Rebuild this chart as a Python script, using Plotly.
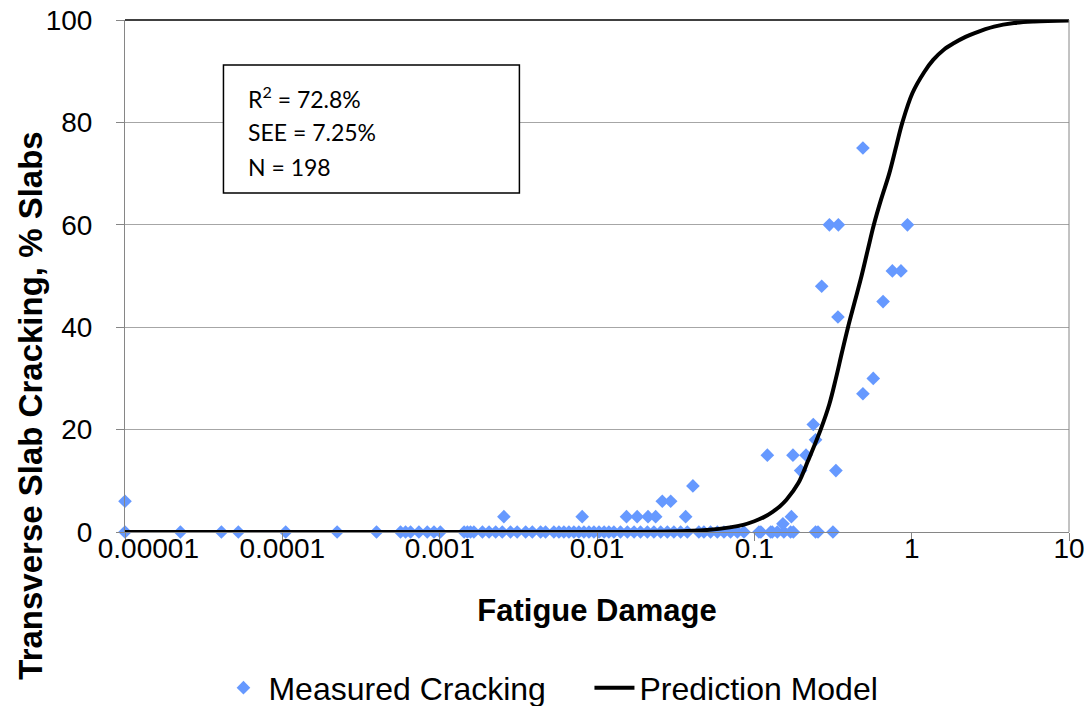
import plotly.graph_objects as go

# measured cracking (fatigue damage vs % slabs cracked)
measured_fd = [
    1e-5, 2.25e-5, 4.1e-5, 5.25e-5, 1.05e-4, 2.23e-4, 3.97e-4, 5.64e-4, 6.07e-4,
    6.53e-4, 7.38e-4, 8.34e-4, 9.2e-4, 1.01e-3, 1.43e-3, 1.5e-3, 1.57e-3, 1.65e-3,
    1.87e-3, 2.06e-3, 2.27e-3, 2.5e-3, 2.82e-3, 3.11e-3, 3.52e-3, 3.88e-3, 4.38e-3,
    4.71e-3, 5.32e-3, 5.73e-3, 6.16e-3, 6.63e-3, 7.13e-3, 7.67e-3, 8.26e-3, 8.89e-3,
    9.56e-3, 0.0103, 0.0111, 0.0119, 0.0128, 0.0141, 0.0156, 0.0172, 0.0189, 0.0209,
    0.023, 0.0254, 0.028, 0.0308, 0.034, 0.0375, 0.0444, 0.0478, 0.0527, 0.0582,
    0.0641, 0.0706, 0.078, 0.0859, 0.107, 0.11, 0.127, 0.13, 0.14, 0.154, 0.17,
    0.177, 0.245, 0.254, 0.316,
    1e-5, 0.00256, 0.00805, 0.0154, 0.018, 0.0211, 0.0236, 0.026, 0.0294, 0.0366,
    0.0407, 0.121, 0.152, 0.172, 0.176, 0.197, 0.213, 0.237, 0.245, 0.268, 0.30,
    0.33, 0.34, 0.342, 0.49, 0.49, 0.57, 0.658, 0.754, 0.855, 0.94,
]
measured_crk = [0] * 71 + [
    6, 3, 3, 3, 3, 3, 3, 6, 6, 3,
    9, 15, 1.6, 3, 15, 12, 15, 21, 18, 48, 60,
    12, 42, 60, 75, 27, 30, 45, 51, 51, 60,
]

# prediction model curve
model_fd = [1e-5, 0.01, 0.03, 0.05, 0.07, 0.085, 0.1, 0.115, 0.13, 0.145, 0.16, 0.19,
            0.22, 0.264, 0.3, 0.33, 0.36, 0.394, 0.435, 0.48, 0.525, 0.575, 0.64,
            0.72, 0.8, 0.873, 1.01, 1.2, 1.37, 1.6, 1.86, 2.2, 2.49, 3.34, 4.47, 6, 10]
model_crk = [0, 0, 0.1, 0.4, 0.9, 1.4, 2.1, 2.9, 3.9, 5.0, 6.3, 9.5,
             14, 20, 25, 30, 35, 40, 45, 50, 55, 60, 65,
             70, 75.5, 80, 85.7, 89.8, 92.2, 94.2, 95.5, 96.7, 97.4, 98.7, 99.4, 99.7, 99.9]

x_ticks = [1e-5, 1e-4, 1e-3, 1e-2, 1e-1, 1, 10]
# first label sits a little to the right of its tick, as in the original
x_ticktext = ['\u00a0' * 6 + '0.00001', '0.0001', '0.001', '0.01', '0.1', '1', '10']
y_ticks = [0, 20, 40, 60, 80, 100]

stats_lines = ['R<sup>2</sup> = 72.8%', 'SEE = 7.25%', 'N = 198']

font = 'Liberation Sans, Arial, sans-serif'

fig = go.Figure()
fig.add_trace(go.Scatter(
    x=measured_fd, y=measured_crk, mode='markers', name='Measured Cracking',
    marker=dict(symbol='diamond', size=10.5, color='#6699FF'),
    cliponaxis=False))
fig.add_trace(go.Scatter(
    x=model_fd, y=model_crk, mode='lines', name='Prediction Model',
    line=dict(color='black', width=4, shape='spline', smoothing=1),
    cliponaxis=False))

# page body has an 8px margin, so the figure is made 8px smaller each way
fig.update_layout(
    width=1084, height=698,
    paper_bgcolor='white', plot_bgcolor='white',
    margin=dict(l=116.5, r=23.3, t=12.2, b=174.3),
    font=dict(family=font, color='black', size=28),
    showlegend=True,
    legend=dict(orientation='h', x=0.099, yref='container', y=0.026,
                xanchor='left', yanchor='middle', entrywidth=316,
                font=dict(size=32), itemwidth=40, bgcolor='rgba(0,0,0,0)'),
    xaxis=dict(type='log', range=[-5, 1], tickvals=x_ticks, ticktext=x_ticktext,
               showgrid=False, showline=True, linecolor='#868686', linewidth=1,
               ticks='outside', ticklen=8, tickcolor='#868686', automargin=False,
               tickfont=dict(size=28), zeroline=False,
               ticklabelstandoff=-17, ticklabeloverflow='allow',
               title=dict(text='<b>Fatigue Damage</b>', font=dict(size=31), standoff=36)),
    yaxis=dict(range=[0, 100], tickvals=y_ticks, showgrid=True, gridcolor='#A6A6A6',
               gridwidth=1, showline=True, linecolor='#868686', linewidth=1,
               ticks='outside', ticklen=8, tickcolor='#868686', automargin=False,
               tickfont=dict(size=28), zeroline=False, ticklabelstandoff=18,
               ticklabeloverflow='allow'),
)

# plot area border: dark top edge, grey right edge
fig.add_shape(type='line', xref='paper', yref='paper', x0=0, x1=1, y0=1, y1=1,
              line=dict(color='black', width=1.5))
fig.add_shape(type='line', xref='paper', yref='paper', x0=1, x1=1, y0=0, y1=1,
              line=dict(color='#868686', width=1))

# y axis title, placed like the original (lower than plot centre)
fig.add_annotation(text='<b>Transverse Slab Cracking, % Slabs</b>', textangle=-90,
                   xref='paper', yref='paper', x=-0.1001, y=0.2457,
                   xanchor='center', yanchor='middle', showarrow=False,
                   font=dict(size=33))

# stats box
fig.add_shape(type='rect', xref='paper', yref='paper', x0=0.1043, x1=0.4178,
              y0=0.662, y1=0.912, line=dict(color='black', width=1.5),
              fillcolor='white', layer='above')
for i, line in enumerate(stats_lines):
    fig.add_annotation(text=line, xref='paper', yref='paper', x=0.1287,
                       y=0.8495 - i * 0.0685, xanchor='left', yanchor='middle',
                       showarrow=False, font=dict(family='Lato, Open Sans', size=23))

fig.write_html('out.html')
